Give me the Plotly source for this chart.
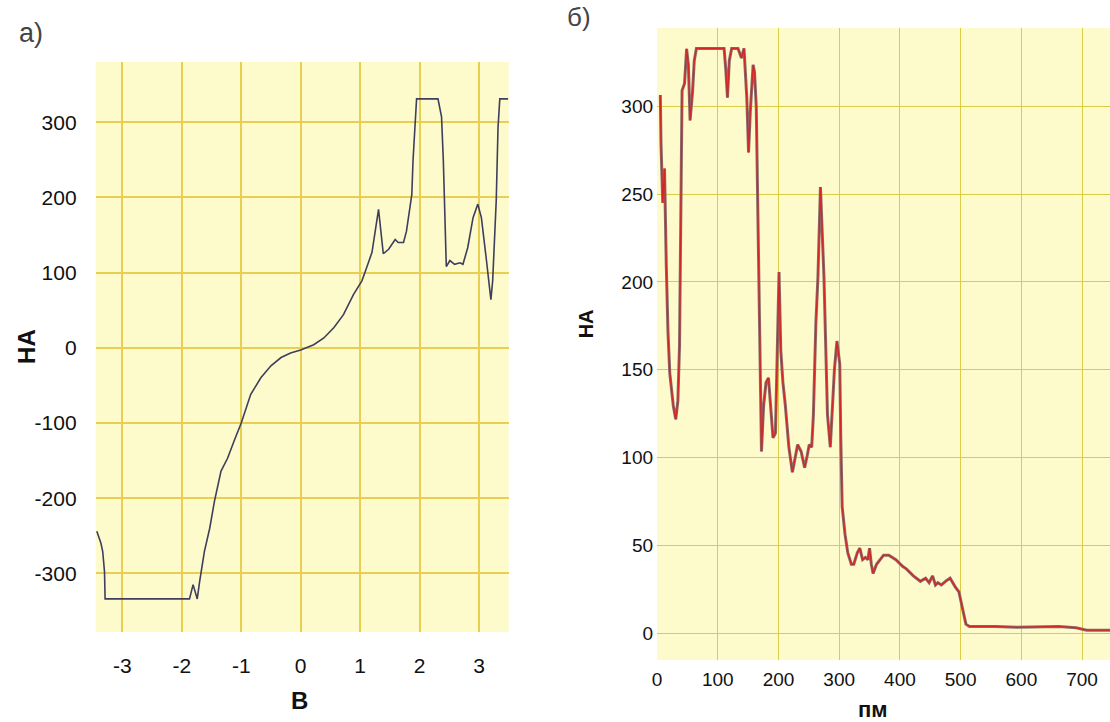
import plotly.graph_objects as go

# ---- Panel а): I–V curve (В, нА) ----
volts = [-3.43, -3.36, -3.33, -3.30, -3.29, -1.87, -1.81, -1.74, -1.70, -1.62,
         -1.53, -1.45, -1.34, -1.23, -1.12, -1.00, -0.84, -0.67, -0.50, -0.33,
         -0.17, 0.0, 0.22, 0.39, 0.56, 0.72, 0.89, 1.03, 1.09, 1.20,
         1.31, 1.39, 1.48, 1.59, 1.64, 1.73, 1.78, 1.87, 1.89, 1.95,
         2.31, 2.37, 2.40, 2.42, 2.45, 2.51, 2.59, 2.68, 2.73, 2.81,
         2.90, 2.98, 3.04, 3.12, 3.20, 3.23, 3.29, 3.32, 3.35, 3.49]
current_a = [-244, -260, -271, -298, -334, -334, -315, -334, -311, -271,
             -240, -204, -164, -147, -124, -100, -62, -40, -24, -13,
             -7, -3, 4, 13, 27, 44, 71, 89, 102, 127,
             184, 125, 131, 144, 140, 140, 155, 204, 249, 331,
             331, 307, 249, 182, 108, 116, 111, 113, 111, 133,
             173, 191, 173, 120, 64, 89, 196, 293, 331, 331]

# ---- Panel б): current vs distance (пм, нА) ----
dist_pm = [5.4, 6.5, 9.4, 12.3, 15.2, 18, 21, 26.7, 30.8, 34.3,
           37, 38.3, 40, 41.2, 45.3, 48.7, 51.6, 54.4, 58.4, 61.3,
           64.8, 110.4, 113.2, 116, 119, 122.9, 133.3, 139, 143.2, 147.8,
           150.7, 153.6, 158.2, 160.5, 163.4, 166.8, 169.7, 172, 175.5, 179.5,
           183.5, 188.2, 191, 195, 198.6, 200.9, 203.8, 207.3, 211.3, 217.1,
           222.9, 227.5, 231.6, 237.3, 243.1, 247.2, 250.6, 254.7, 257.5, 261.6,
           265, 269.1, 272, 274.9, 277.8, 280.7, 285.3, 288.2, 292.2, 296.3,
           300.9, 302.6, 304.9, 309.6, 314.2, 320, 324, 329.8, 333.9, 338.5,
           343.1, 347.2, 350, 352.9, 355.8, 361.5, 367.3, 373.1, 381.7, 393.3,
           404.8, 410.6, 422.1, 433.7, 442.3, 448.1, 453.8, 458.5, 462.5, 468.3,
           477, 482.7, 491.4, 497.2, 502.9, 508.7, 514.5, 557.7, 592.3, 661.6,
           690.4, 707.7, 747]
current_b = [306.5, 279, 245, 264.6, 209.6, 171.6, 148, 129.7, 121.8, 132.3,
             163.7, 224, 281.6, 309, 313, 332.7, 323.6, 292, 308, 326,
             333, 333, 321, 305, 326, 333, 333, 327.5, 333, 305,
             273.8, 297, 323.6, 319.6, 300, 218.8, 150.6, 103.5, 129.7, 142.8,
             145.4, 124.4, 111.3, 114, 176.8, 205.7, 161, 142.8, 129.7, 106,
             91.7, 100.9, 107.4, 103.5, 94.3, 100.9, 107.4, 106, 124.4, 176.8,
             203, 254, 229, 203, 163.7, 124.4, 106, 124.4, 150.6, 166.4,
             153.3, 111.3, 72, 56.3, 45.8, 39.3, 39.3, 45.8, 48.5, 41.9,
             43.2, 41.9, 48.5, 39.3, 34, 39.3, 41.9, 44.5, 44.5, 41.9,
             38, 36.7, 32.7, 29.6, 31.4, 28.8, 32.7, 27.5, 28.8, 27.5,
             30.1, 31.4, 26.2, 23.6, 14.4, 5.2, 3.9, 3.9, 3.4, 3.9,
             3.1, 1.8, 1.8]

a_xticks = [-3, -2, -1, 0, 1, 2, 3]
a_yticks = [-300, -200, -100, 0, 100, 200, 300]
b_xticks = [0, 100, 200, 300, 400, 500, 600, 700]
b_yticks = [0, 50, 100, 150, 200, 250, 300]

W, H = 1110, 722
FONT = "Liberation Sans, Arial, sans-serif"

fig = go.Figure()
fig.add_trace(go.Scatter(x=volts, y=current_a, mode="lines",
                         line=dict(color="#3d3f5c", width=1.6),
                         xaxis="x", yaxis="y", showlegend=False))
fig.add_trace(go.Scatter(x=dist_pm, y=current_b, mode="lines",
                         line=dict(color="#8c6a6a", width=3.0),
                         xaxis="x2", yaxis="y2", showlegend=False))
fig.add_trace(go.Scatter(x=dist_pm, y=current_b, mode="lines",
                         line=dict(color="#d02828", width=1.3),
                         xaxis="x2", yaxis="y2", showlegend=False))

def px(v):
    return v / W

def py(v):
    return 1 - v / H

grid_a = "#e8cf52"
grid_b = "#dccb45"

fig.update_layout(
    width=W, height=H,
    margin=dict(l=0, r=0, t=0, b=0),
    paper_bgcolor="white",
    plot_bgcolor="#fdfacb",
    showlegend=False,
    font=dict(family=FONT, color="#111"),
    xaxis=dict(domain=[px(91), px(506)], range=[-3.45, 3.5], anchor="y",
               tickvals=a_xticks, ticktext=[str(t) for t in a_xticks],
               showgrid=True, gridcolor=grid_a, gridwidth=2, zeroline=False,
               showline=False, ticks="", tickfont=dict(size=21, color="#111"),
               ticklabelstandoff=19, fixedrange=True),
    yaxis=dict(domain=[py(632), py(62)], range=[-378, 380], anchor="x",
               tickvals=a_yticks, ticktext=[str(t) for t in a_yticks],
               showgrid=True, gridcolor=grid_a, gridwidth=2, zeroline=False,
               showline=False, ticks="", tickfont=dict(size=21, color="#111"),
               ticklabelstandoff=18, fixedrange=True),
    xaxis2=dict(domain=[px(655), 1.0], range=[0, 746], anchor="y2",
                tickvals=b_xticks, ticktext=[str(t) for t in b_xticks],
                showgrid=True, gridcolor=grid_b, gridwidth=1, zeroline=False,
                showline=False, ticks="", tickfont=dict(size=19, color="#111"),
                ticklabelstandoff=6, fixedrange=True),
    yaxis2=dict(domain=[py(660), py(28)], range=[-15.2, 344.6], anchor="x2",
                tickvals=b_yticks, ticktext=[str(t) for t in b_yticks],
                showgrid=True, gridcolor=grid_b, gridwidth=1, zeroline=False,
                showline=False, ticks="", tickfont=dict(size=19, color="#111"),
                ticklabelstandoff=3, fixedrange=True),
)

def label(text, x, y, size, bold=False, angle=0, color="#111"):
    fig.add_annotation(x=px(x), y=py(y), xref="paper", yref="paper",
                       text=f"<b>{text}</b>" if bold else text,
                       showarrow=False, textangle=angle,
                       xanchor="center", yanchor="middle",
                       font=dict(family=FONT, size=size, color=color))

label("а)", 26, 33, 27, color="#444")
label("б)", 577, 17, 26, color="#444")
label("НА", 21, 346, 24, bold=True, angle=-90)
label("В", 296, 700, 24, bold=True)
label("НА", 584, 324, 20, bold=True, angle=-90)
label("пм", 872, 709, 22, bold=True)

fig.write_html(
    "out.html",
    config={"displayModeBar": False},
    post_script="document.body.style.margin='0px';document.body.style.overflow='hidden';",
)
